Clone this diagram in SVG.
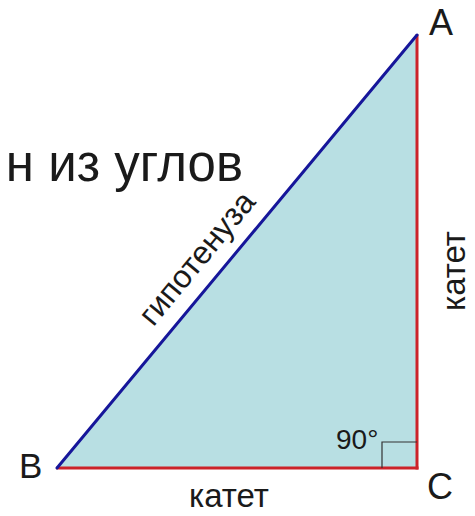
<svg xmlns="http://www.w3.org/2000/svg" width="475" height="516" viewBox="0 0 475 516">
<style>
.lbl{font-family:"Liberation Sans",Arial,sans-serif;fill:#1a1a1a}
.leg{stroke:#cc2229;stroke-width:3;fill:none;stroke-linecap:square}
.hyp{stroke:#16169a;stroke-width:3;fill:none;stroke-linecap:round}
</style>
<rect width="475" height="516" fill="#ffffff"/>
<g id="triangle">
<polygon points="57,468 417,35 417,468" fill="#b8dfe3"/>
</g>
<g id="connectors">
<line class="leg" x1="417" y1="36" x2="417" y2="468"/>
<line class="leg" x1="58" y1="468" x2="417" y2="468"/>
<line class="hyp" x1="57" y1="468" x2="417" y2="35"/>
<polyline points="382,468 382,442 417,442" fill="none" stroke="#333" stroke-width="1.2"/>
</g>
<g id="A"><text class="lbl" x="429" y="35" font-size="36">A</text></g>
<g id="B"><text class="lbl" x="19" y="478" font-size="35">B</text></g>
<g id="C"><text class="lbl" x="427" y="499" font-size="36">C</text></g>
<g id="angle"><text class="lbl" x="336" y="449" font-size="28" fill="#222">90°</text></g>
<g id="leg-bottom"><text class="lbl" x="229" y="507" font-size="33" text-anchor="middle">катет</text></g>
<g id="leg-right"><text class="lbl" x="0" y="0" font-size="33" text-anchor="middle" transform="translate(465,271) rotate(-90)">катет</text></g>
<g id="hypotenuse"><text class="lbl" x="0" y="0" font-size="32" text-anchor="middle" transform="translate(205,265) rotate(-50.3)">гипотенуза</text></g>
<g id="caption"><text class="lbl" x="243" y="181" font-size="51" text-anchor="end" fill="#000">н из углов</text></g>
</svg>
